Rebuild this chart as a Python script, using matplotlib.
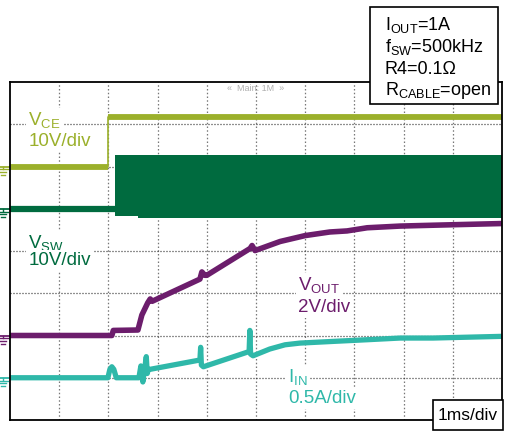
import numpy as np
import matplotlib
matplotlib.use("Agg")
import matplotlib.pyplot as plt
from matplotlib.patches import Rectangle

plt.rcParams['font.family'] = ['Liberation Sans', 'DejaVu Sans']
plt.rcParams['mathtext.fontset'] = 'custom'
plt.rcParams['mathtext.rm'] = 'Liberation Sans'
plt.rcParams['mathtext.it'] = 'Liberation Sans:italic'

# scope channel colours
c_ce = '#9bb02b'
c_sw = '#006b3f'
c_out = '#6c1d6c'
c_in = '#2fb8a9'

# time in ms (1 ms/div, 10 div)
# V_CE, 10 V/div, ground at div 6
t_ce = [0, 2.0, 2.0, 10]
v_ce = [0, 0, 11.7, 11.7]

# V_SW, 10 V/div, ground at div 5
t_sw_low = [0, 2.13]
v_sw_low = [0, 0]
t_sw_env = [2.13, 2.6, 2.6, 10]
v_sw_hi = [12.7, 12.7, 12.7, 12.7]
v_sw_lo = [-1.7, -1.7, -2.2, -2.2]

# V_OUT, 2 V/div, ground at div 2
t_out = [0, 2.07, 2.10, 2.60, 2.68, 2.80, 2.85, 2.89, 3.86, 3.90, 3.96, 4.00,
         4.88, 4.92, 4.98, 5.49, 6.00, 6.50, 6.85, 7.26, 7.93, 8.60, 9.29, 10.0]
v_out = [0, 0, 0.24, 0.26, 0.97, 1.55, 1.73, 1.62, 2.67, 3.01, 2.85, 2.85,
         4.12, 4.26, 4.02, 4.45, 4.73, 4.90, 4.95, 5.10, 5.18, 5.22, 5.26, 5.30]

# I_IN, 0.5 A/div, ground at div 1
t_in = [0, 1.99, 2.03, 2.07, 2.11, 2.16, 2.62, 2.66, 2.70, 2.74, 2.77, 2.79, 2.81, 2.85,
        3.86, 3.875, 3.89, 3.93, 4.86, 4.875, 4.89, 4.94, 5.28, 5.59, 5.89,
        6.56, 7.26, 7.93, 8.60, 10.0]
i_in = [0, 0, 0.10, 0.13, 0.10, 0, 0, 0.14, -0.05, 0.12, 0.25, 0.05, 0.10, 0.10,
        0.21, 0.36, 0.15, 0.13, 0.31, 0.56, 0.28, 0.26, 0.34, 0.39, 0.41,
        0.43, 0.45, 0.47, 0.47, 0.49]

# (ground div, units per div)
ch_ce = (6, 10)
ch_sw = (5, 10)
ch_out = (2, 2)
ch_in = (1, 0.5)


def to_div(vals, ch):
    return ch[0] + np.asarray(vals, dtype=float) / ch[1]


W, H = 505, 433
fig = plt.figure(figsize=(W / 100, H / 100), dpi=100)
ax = fig.add_axes([10 / W, 13 / H, 492 / W, 338 / H])
ax.set_xlim(0, 10)
ax.set_ylim(0, 8)
ax.set_xticks(range(1, 10))
ax.set_yticks(range(1, 8))
ax.set_axisbelow(True)
ax.tick_params(length=0, labelbottom=False, labelleft=False)
ax.xaxis.grid(True, color='#777777', linestyle=(0, (1.2, 1.8)), linewidth=0.9)
ax.yaxis.grid(True, color='#222222', linestyle=(0, (0.8, 1.6)), linewidth=0.9)
for s in ax.spines.values():
    s.set_linewidth(1.3)
    s.set_zorder(4)

# V_CE
y = to_div(v_ce, ch_ce)
ax.plot(t_ce, y, color=c_ce, lw=1.2)
ax.plot(t_ce[:2], y[:2], color=c_ce, lw=4.2, solid_capstyle='butt')
ax.plot(t_ce[2:], y[2:], color=c_ce, lw=4.2, solid_capstyle='butt')

# V_SW
ax.plot(t_sw_low, to_div(v_sw_low, ch_sw), color=c_sw, lw=4.5, solid_capstyle='butt')
ax.fill_between(t_sw_env, to_div(v_sw_lo, ch_sw), to_div(v_sw_hi, ch_sw),
                color=c_sw, lw=0)

# V_OUT
ax.plot(t_out, to_div(v_out, ch_out), color=c_out, lw=4.0, solid_joinstyle='round')

# I_IN
ax.plot(t_in, to_div(i_in, ch_in), color=c_in, lw=3.8, solid_joinstyle='round')

# ground markers at left edge
for ch, c in [(ch_ce, c_ce), (ch_sw, c_sw), (ch_out, c_out), (ch_in, c_in)]:
    g = ch[0]
    ax.plot([-0.2, 0.02], [g, g], color=c, lw=1.3, clip_on=False)
    ax.plot([-0.15, -0.15], [g, g - 0.05], color=c, lw=1.0, clip_on=False)
    for k, hw in enumerate([0.1, 0.07, 0.04]):
        yy = g - 0.07 - k * 0.06
        ax.plot([-0.15 - hw, -0.15 + hw], [yy, yy], color=c, lw=1.0, clip_on=False)

# channel labels (white backing hides the grid behind them)
fs = 13.5
bg = dict(facecolor='white', edgecolor='none', pad=1.5)
labels = [
    (0.37, 6.98, r'$\mathregular{V_{CE}}$', c_ce),
    (0.37, 6.49, '10V/div', c_ce),
    (0.37, 4.07, r'$\mathregular{V_{SW}}$', c_sw),
    (0.37, 3.67, '10V/div', c_sw),
    (5.85, 3.08, r'$\mathregular{V_{OUT}}$', c_out),
    (5.85, 2.56, '2V/div', c_out),
    (5.65, 0.90, r'$\mathregular{I_{IN}}$', c_in),
    (5.65, 0.40, '0.5A/div', c_in),
]
for x, yv, s, c in labels:
    ax.text(x, yv, s, color=c, fontsize=fs, bbox=bg, zorder=1.5)

ax.text(5.0, 7.84, '\u00ab  Main: 1M  \u00bb', color='#b0b0b0', fontsize=6.5,
        ha='center', va='center')

# condition box, top right
fig.patches.append(Rectangle((370 / W, 1 - 104 / H), 128 / W, 97 / H,
                             transform=fig.transFigure, facecolor='white',
                             edgecolor='black', lw=1.2, zorder=5))
lines = [r'$\mathregular{I_{OUT}}$=1A', r'$\mathregular{f_{SW}}$=500kHz',
         'R4=0.1\u03a9', r'$\mathregular{R_{CABLE}}$=open']
for k, s in enumerate(lines):
    fig.text(385 / W, 1 - (30 + k * 21.8) / H, s, fontsize=13, zorder=6,
             va='baseline')

# time base box, bottom right
fig.patches.append(Rectangle((433 / W, 1 - 430 / H), 70 / W, 30 / H,
                             transform=fig.transFigure, facecolor='white',
                             edgecolor='black', lw=1.2, zorder=5))
fig.text(468 / W, 1 - 415 / H, '1ms/div', fontsize=12.5, ha='center',
         va='center', zorder=6)

fig.savefig('out.png', dpi=100)
